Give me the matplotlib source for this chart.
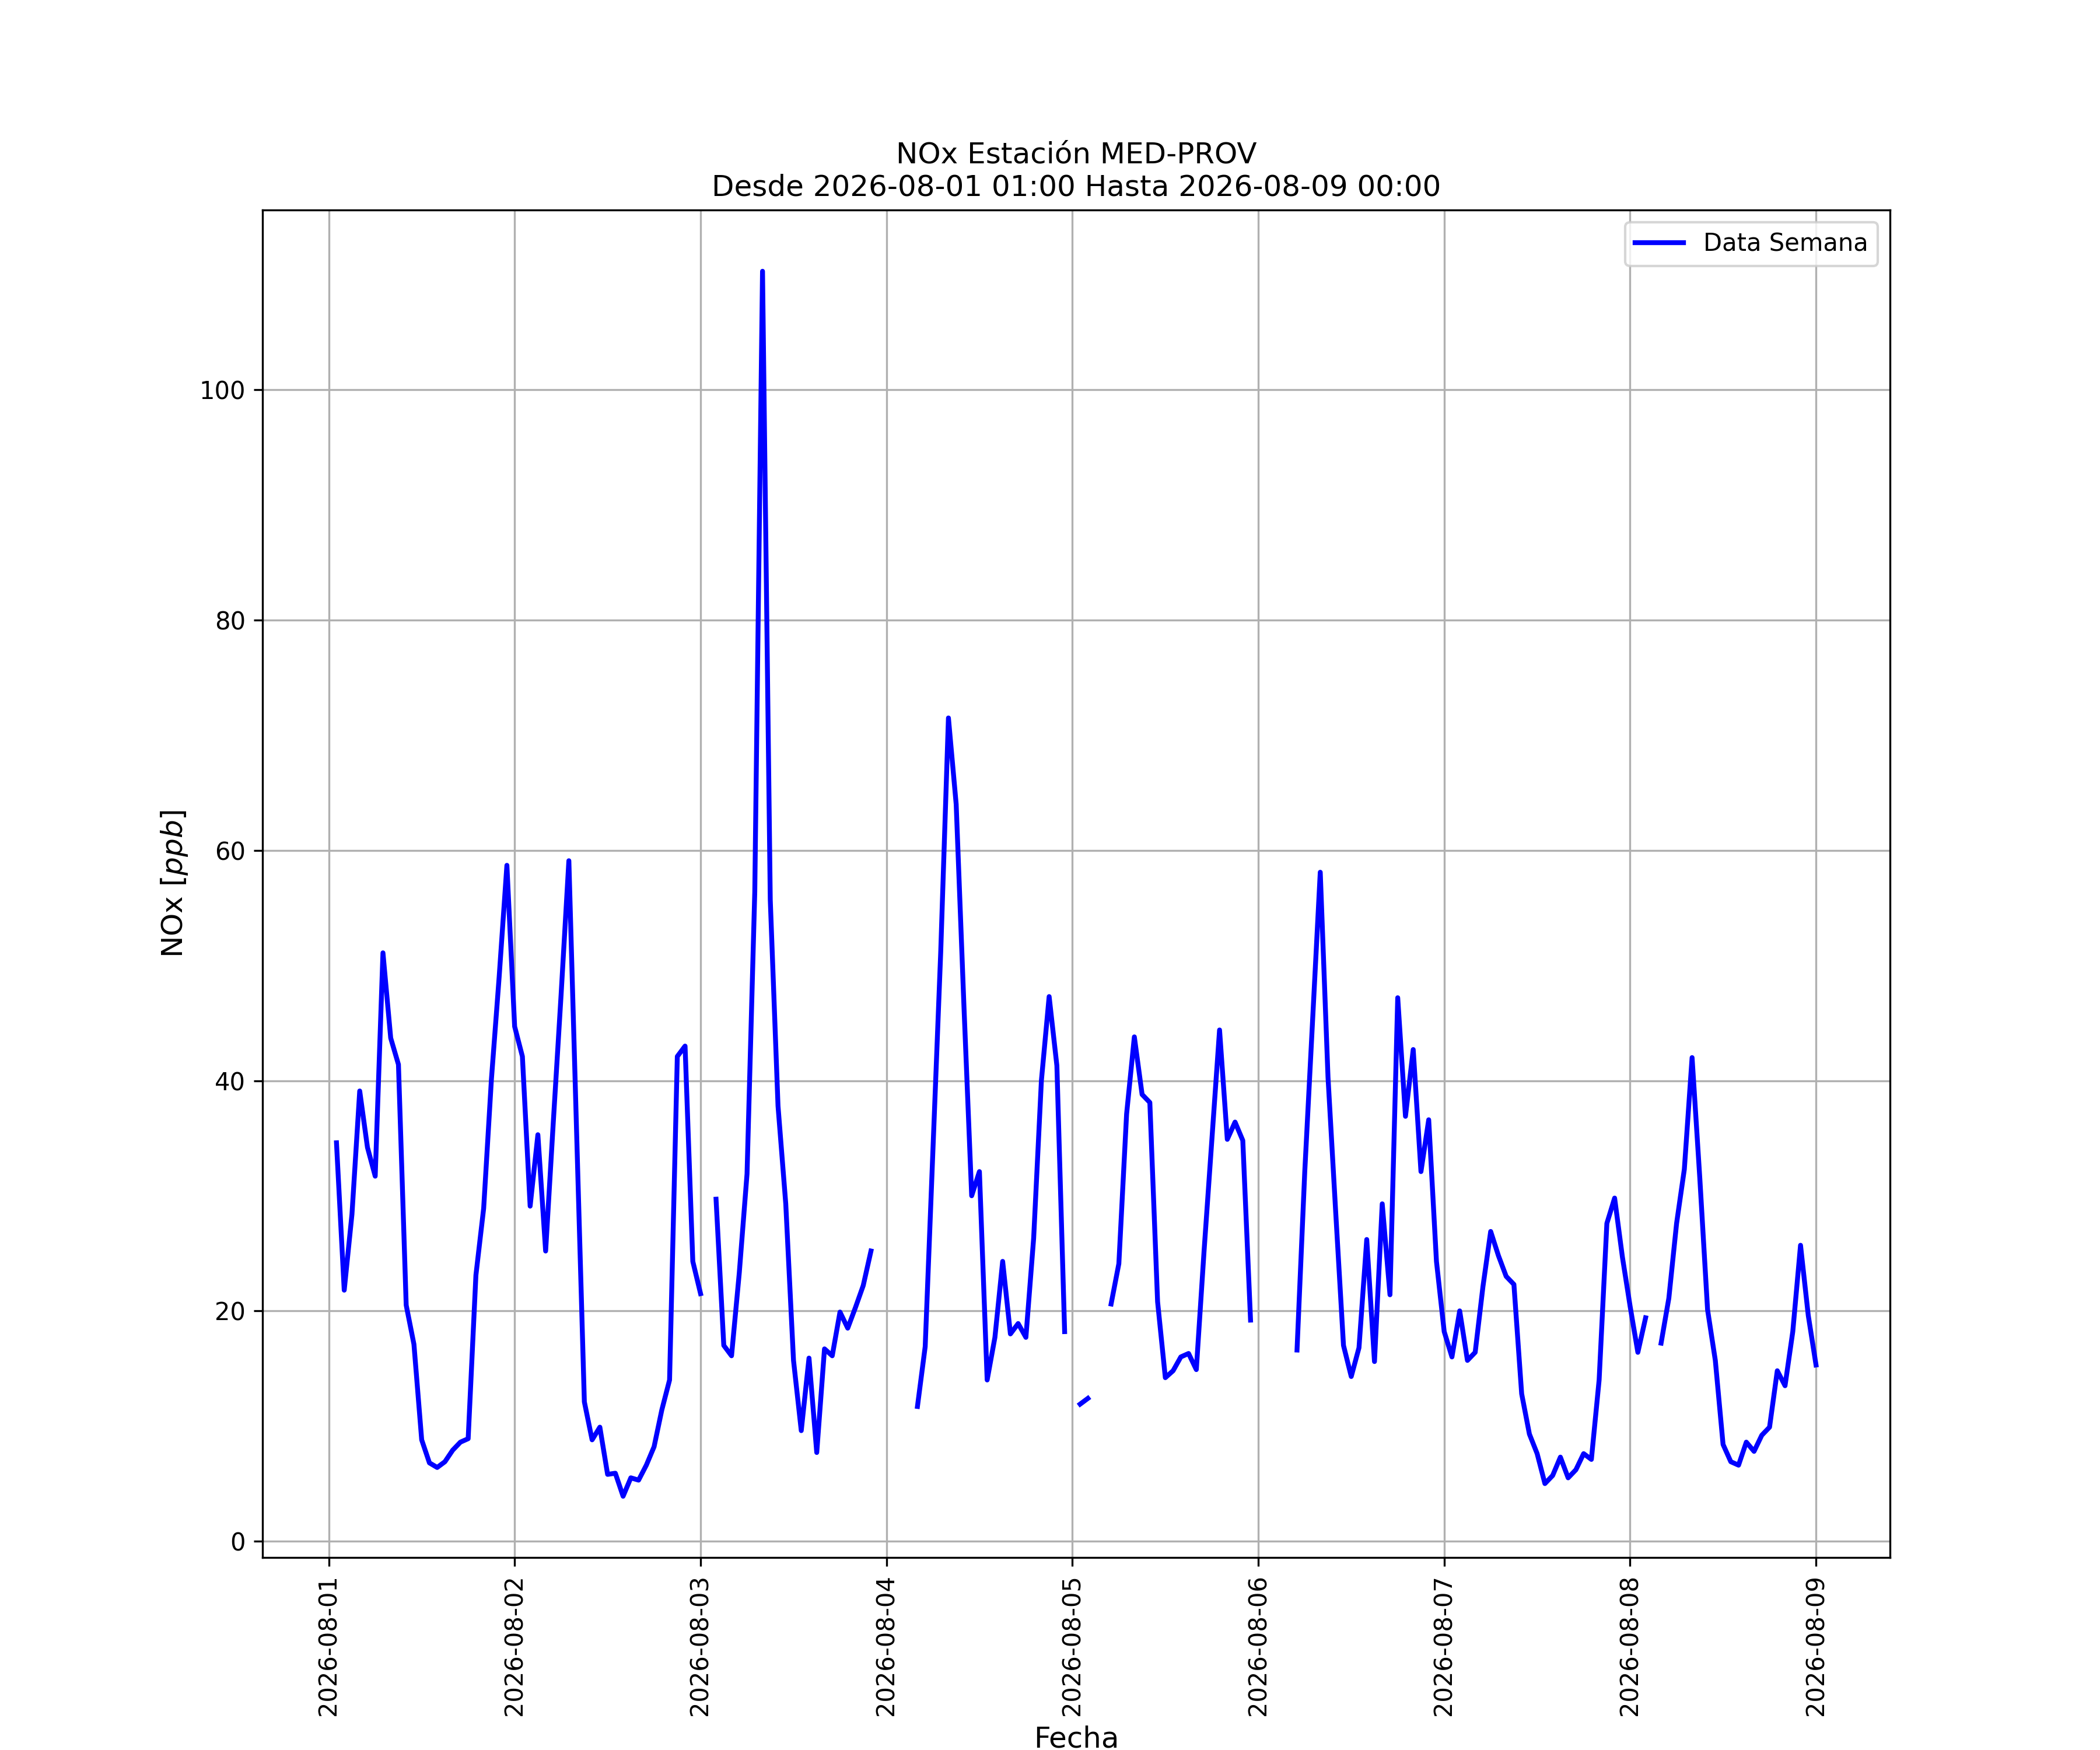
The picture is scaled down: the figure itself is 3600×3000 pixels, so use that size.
import matplotlib
matplotlib.use("Agg")
import matplotlib.pyplot as plt
import matplotlib.dates as mdates
import numpy as np
import pandas as pd

nan = np.nan

# hourly NOx values, each list runs from 01:00 of the day to 00:00 of the next day
dia_01 = [34.6, 21.8, 28.4, 39.1, 34.2, 31.7, 51.1, 43.7, 41.4, 20.5, 17.1, 8.8,
          6.8, 6.4, 6.9, 7.9, 8.6, 8.9, 23.1, 28.9, 40.1, 49.0, 58.7, 44.7]
dia_02 = [42.1, 29.1, 35.3, 25.2, 36.5, 47.5, 59.1, 35.5, 12.1, 8.8, 9.9, 5.8,
          5.9, 3.9, 5.5, 5.3, 6.6, 8.2, 11.4, 14.0, 42.1, 43.0, 24.3, 21.5]
dia_03 = [nan, 29.7, 17.0, 16.1, 23.3, 31.9, 56.4, 110.3, 55.7, 37.8, 29.3, 15.7,
          9.6, 15.9, 7.7, 16.7, 16.1, 19.9, 18.5, 20.3, 22.2, 25.2, nan, nan]
dia_04 = [nan, nan, nan, 11.7, 16.9, 34.0, 51.1, 71.5, 64.0, 46.5, 30.0, 32.1,
          14.0, 17.7, 24.3, 18.0, 18.9, 17.7, 26.3, 40.0, 47.3, 41.3, 18.2, nan]
dia_05 = [11.9, 12.4, nan, nan, 20.6, 24.1, 37.1, 43.8, 38.8, 38.1, 20.8, 14.2,
          14.8, 16.0, 16.3, 14.9, 25.2, 34.8, 44.4, 34.9, 36.4, 34.8, 19.2, nan]
dia_06 = [nan, nan, nan, nan, 16.6, 32.1, 45.1, 58.1, 40.3, 28.5, 17.0, 14.3,
          16.8, 26.2, 15.6, 29.3, 21.4, 47.2, 36.9, 42.7, 32.1, 36.6, 24.3, 18.2]
dia_07 = [16.0, 20.0, 15.7, 16.4, 22.1, 26.9, 24.8, 23.0, 22.3, 12.8, 9.3, 7.6,
          5.0, 5.7, 7.3, 5.5, 6.2, 7.6, 7.1, 14.0, 27.6, 29.8, 24.7, 20.4]
dia_08 = [16.4, 19.4, nan, 17.2, 21.1, 27.6, 32.3, 42.0, 31.5, 20.1, 15.7, 8.4,
          6.9, 6.6, 8.6, 7.8, 9.2, 9.9, 14.8, 13.5, 18.2, 25.7, 19.6, 15.3]

nox = dia_01 + dia_02 + dia_03 + dia_04 + dia_05 + dia_06 + dia_07 + dia_08
fechas = pd.date_range("2026-08-01 01:00", periods=len(nox), freq="h")

fig = plt.figure(figsize=(12, 10), dpi=300)
ax = fig.add_subplot(111)
ax.plot(fechas, nox, color="b", linewidth=2, label="Data Semana")
ax.set_title("NOx Estación MED-PROV\nDesde 2026-08-01 01:00 Hasta 2026-08-09 00:00")
ax.set_xlabel("Fecha", fontsize=12)
ax.set_ylabel("NOx [$ppb$]", fontsize=12)
ax.xaxis.set_major_locator(mdates.DayLocator())
ax.xaxis.set_major_formatter(mdates.DateFormatter("%Y-%m-%d"))
plt.setp(ax.get_xticklabels(), rotation=90)
ax.grid()
ax.legend(loc="upper right")
fig.savefig("out.png", dpi=300)
